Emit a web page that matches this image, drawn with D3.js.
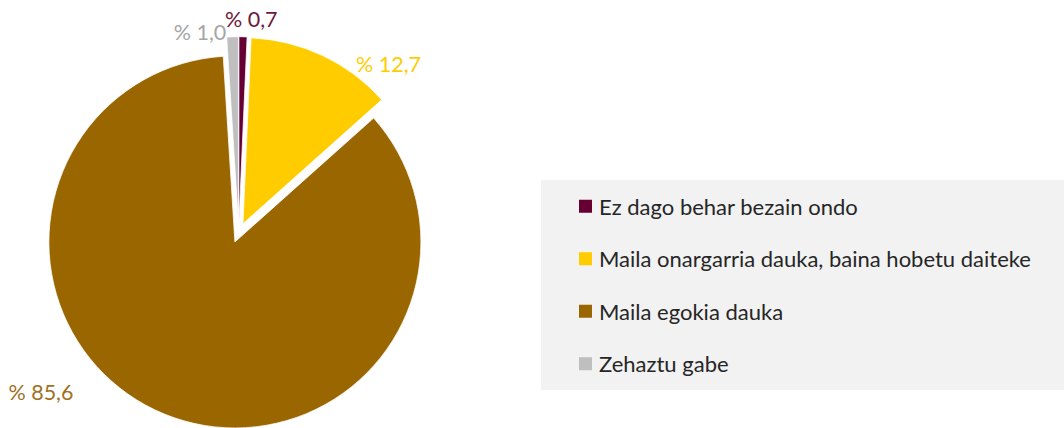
<!DOCTYPE html>
<html>
<head>
<meta charset="utf-8">
<script src="https://cdn.jsdelivr.net/npm/d3@7"></script>
<style>
  html, body { margin: 0; padding: 0; background: #fff; }
  svg { display: block; }
</style>
</head>
<body>
<div id="chart"></div>
<script>
// ── Data ─────────────────────────────────────────────────────────
const CATEGORIES = [
  'Ez dago behar bezain ondo',
  'Maila onargarria dauka, baina hobetu daiteke',
  'Maila egokia dauka',
  'Zehaztu gabe',
];
const VALUES = [0.7, 12.7, 85.6, 1.0];
const COLORS = ['#660033', '#ffcc00', '#996600', '#bfbfbf'];
const LABEL_COLORS = ['#6b1a3d', '#ffcc00', '#a0701f', '#a6a6a6'];

// label nudges (layout only), from the outside-end anchor point
const LABEL_NUDGE = [
  { dx: 8,   dy: -8,  anchor: 'middle' },
  { dx: 29,  dy: 17,  anchor: 'start'  },
  { dx: -87, dy: -31, anchor: 'end'    },
  { dx: -6,  dy: 5,   anchor: 'end'    },
];

const W = 1064, H = 428;
const FONT = "Lato, 'Open Sans', sans-serif";

const svg = d3.select('#chart').append('svg')
  .attr('width', W).attr('height', H)
  .attr('viewBox', `0 0 ${W} ${H}`);

// ── Pie ──────────────────────────────────────────────────────────
const cx = 238.7, cy = 232.7;
const R = 186;
const explode = 10;

const pie = d3.pie().sort(null).value(d => d)
  .startAngle(0).endAngle(2 * Math.PI);
const arcs = pie(VALUES);
const arc = d3.arc().innerRadius(0).outerRadius(R);

const fmt = v => '% ' + d3.format('.1f')(v).replace('.', ',');

const g = svg.append('g').attr('transform', `translate(${cx},${cy})`);

g.selectAll('path.slice')
  .data(arcs)
  .join('path')
  .attr('class', 'slice')
  .attr('d', arc)
  .attr('fill', (d, i) => COLORS[i])
  .attr('stroke', '#fff')
  .attr('stroke-width', 0.75)
  .attr('transform', d => {
    const m = (d.startAngle + d.endAngle) / 2;
    return `translate(${explode * Math.sin(m)},${-explode * Math.cos(m)})`;
  });

const labelR = R + explode + 10;
g.selectAll('text.lbl')
  .data(arcs)
  .join('text')
  .attr('class', 'lbl')
  .attr('x', (d, i) => labelR * Math.sin((d.startAngle + d.endAngle) / 2) + LABEL_NUDGE[i].dx)
  .attr('y', (d, i) => -labelR * Math.cos((d.startAngle + d.endAngle) / 2) + LABEL_NUDGE[i].dy)
  .attr('text-anchor', (d, i) => LABEL_NUDGE[i].anchor)
  .attr('dominant-baseline', 'central')
  .attr('font-family', FONT)
  .attr('font-size', 21.5)
  .attr('fill', (d, i) => LABEL_COLORS[i])
  .text(d => fmt(d.data));

// ── Legend ───────────────────────────────────────────────────────
const legend = svg.append('g');
const lx = 541, ly = 180, lw = W - 541, lh = 210;
legend.append('rect')
  .attr('x', lx).attr('y', ly).attr('width', lw).attr('height', lh)
  .attr('fill', '#f2f2f2');

const rowY = d3.scaleBand().domain(CATEGORIES).range([ly, ly + lh]);

const items = legend.selectAll('g.item')
  .data(CATEGORIES)
  .join('g')
  .attr('class', 'item')
  .attr('transform', d => `translate(0,${rowY(d) + rowY.bandwidth() / 2})`);

items.append('rect')
  .attr('x', 579).attr('y', -6.5)
  .attr('width', 13).attr('height', 13)
  .attr('fill', (d, i) => COLORS[i]);

items.append('text')
  .attr('x', 599).attr('y', 0)
  .attr('dominant-baseline', 'central')
  .attr('font-family', FONT)
  .attr('font-size', 22)
  .attr('fill', '#262626')
  .text(d => d);
</script>
</body>
</html>
